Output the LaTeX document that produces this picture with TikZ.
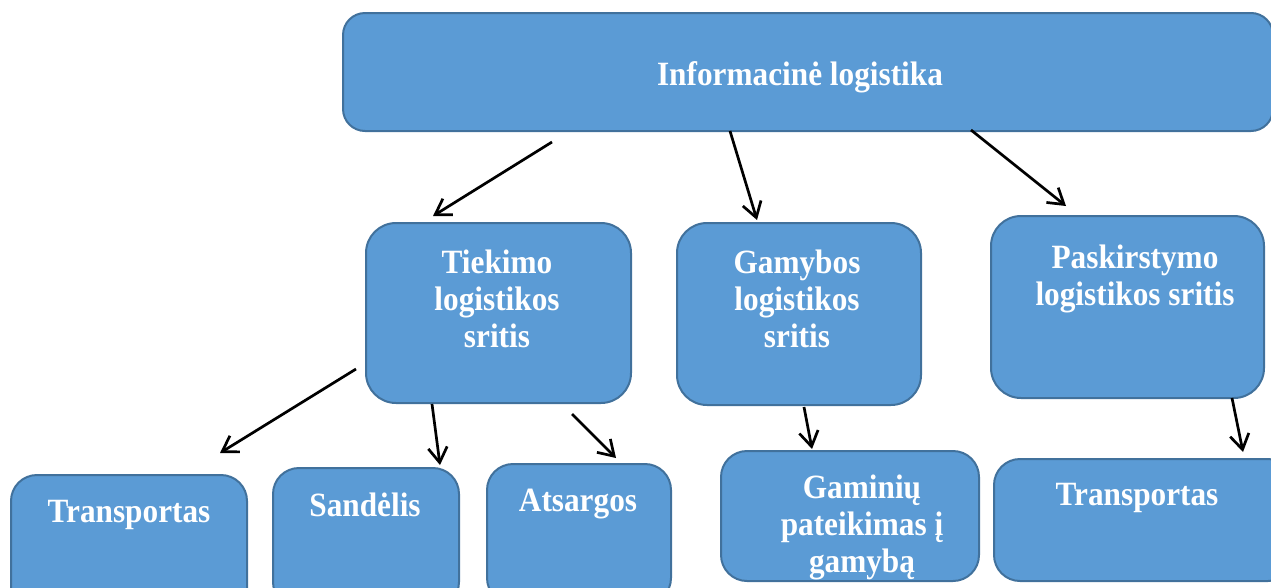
\documentclass[tikz,border=0pt]{standalone}
\usepackage{fontspec}
\setmainfont{Liberation Serif}
\newfontfamily\boxfont[FakeStretch=0.92]{Liberation Serif}
\usetikzlibrary{arrows.meta}
\definecolor{boxfill}{HTML}{5B9BD5}
\definecolor{boxedge}{HTML}{41719C}
\tikzset{
  box/.style={draw=boxedge, fill=boxfill, line width=2pt, rounded corners=#1,
    inner sep=0pt, anchor=north west},
  box/.default=26pt,
  label text/.style={text=white, font=\boxfont\fontsize{34}{37}\selectfont\bfseries,
    align=center, inner sep=0pt, anchor=base},
  link/.style={line width=2.7pt, -{Straight Barb[length=15pt,width=19pt,line width=2.7pt]}},
}
\begin{document}
\begin{tikzpicture}[x=1pt, y=-1pt]
  \useasboundingbox (0,0) rectangle (1271,587);
  \clip (0,0) rectangle (1271,587);

  % boxes
  \node[box=22pt, minimum width=930pt, minimum height=118pt] (top) at (342,12) {};
  \node[box=30pt, minimum width=265pt, minimum height=180pt] (supply) at (365,222) {};
  \node[box=30pt, minimum width=244pt, minimum height=182pt] (prod) at (676,222) {};
  \node[box=30pt, minimum width=273pt, minimum height=182pt] (distr) at (990,215) {};
  \node[box, minimum width=236pt, minimum height=140pt] (trans1) at (10,474) {};
  \node[box, minimum width=186pt, minimum height=140pt] (store) at (272,467) {};
  \node[box, minimum width=184pt, minimum height=140pt] (stock) at (486,463) {};
  \node[box, minimum width=258pt, minimum height=130pt] (goods) at (720,450) {};
  \node[box, minimum width=300pt, minimum height=122pt] (trans2) at (993,458) {};

  % texts (placed by the baseline of their last line)
  \node[label text] (ttop) at (800,85) {Informacinė logistika};
  \node[label text] (tsupply) at (497,347) {Tiekimo\\logistikos\\sritis};
  \node[label text] (tprod) at (797,347) {Gamybos\\logistikos\\sritis};
  \node[label text] (tdistr) at (1135,305) {Paskirstymo\\logistikos sritis};
  \node[label text] (ttrans1) at (129,522) {Transportas};
  \node[label text] (tstore) at (365,516) {Sandėlis};
  \node[label text] (tstock) at (578,511) {Atsargos};
  \node[label text] (tgoods) at (862,572) {Gaminių\\pateikimas į\\gamybą};
  \node[label text] (ttrans2) at (1137,505) {Transportas};

  % arrow ends
  \coordinate (a1s) at (552,142); \coordinate (a1e) at (433,216);
  \coordinate (a2s) at (730,131); \coordinate (a2e) at (757,220);
  \coordinate (a3s) at (971,130); \coordinate (a3e) at (1066,206);
  \coordinate (a4s) at (356,369); \coordinate (a4e) at (220,453);
  \coordinate (a5s) at (432,404); \coordinate (a5e) at (440,465);
  \coordinate (a6s) at (572,414); \coordinate (a6e) at (616,458);
  \coordinate (a7s) at (804,407); \coordinate (a7e) at (812,449);
  \coordinate (a8s) at (1232,398); \coordinate (a8e) at (1243,452);

  \draw[link] (a1s) -- (a1e);
  \draw[link] (a2s) -- (a2e);
  \draw[link] (a3s) -- (a3e);
  \draw[link] (a4s) -- (a4e);
  \draw[link] (a5s) -- (a5e);
  \draw[link] (a6s) -- (a6e);
  \draw[link] (a7s) -- (a7e);
  \draw[link] (a8s) -- (a8e);
\end{tikzpicture}
\end{document}
